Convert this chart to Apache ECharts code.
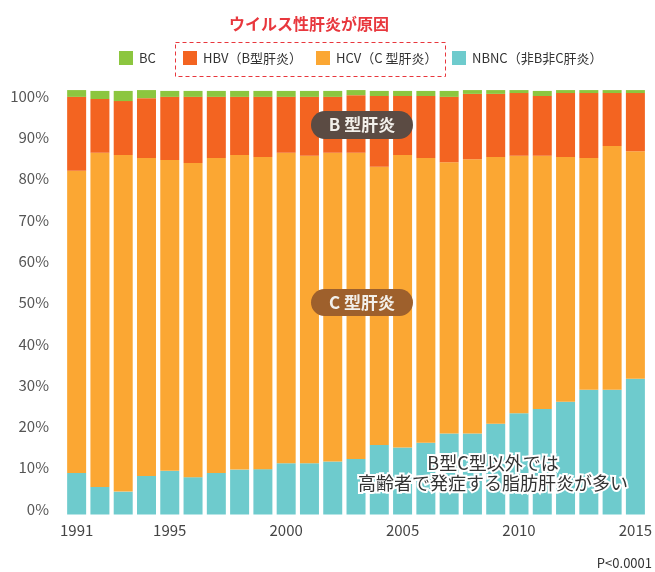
<!DOCTYPE html>
<html>
<head>
<meta charset="utf-8">
<script src="https://cdn.jsdelivr.net/npm/echarts@6/dist/echarts.min.js"></script>
<style>
html,body{margin:0;padding:0;background:#fff;}
#chart{width:655px;height:572px;}
</style>
</head>
<body>
<div id="chart"></div>
<script>
// ---- data (percent of cases per year) ----
const years = ['1991','1992','1993','1994','1995','1996','1997','1998','1999','2000','2001','2002','2003','2004','2005','2006','2007','2008','2009','2010','2011','2012','2013','2014','2015'];
const nbnc = [9.8,6.5,5.4,9.1,10.3,8.8,9.8,10.6,10.7,12.1,12.1,12.5,13.1,16.4,15.8,16.9,19.1,19.1,21.4,23.9,24.9,26.6,29.4,29.4,32.0];
const hcv  = [71.3,78.8,79.4,75.0,73.3,74.1,74.3,74.2,73.6,73.2,72.5,72.8,72.2,65.6,69.0,67.2,64.0,64.7,62.9,60.7,59.7,57.7,54.7,57.5,53.7];
const hbv  = [17.4,12.7,12.7,14.1,14.9,15.6,14.4,13.7,14.2,13.2,13.9,13.2,13.6,16.7,13.9,14.6,15.4,15.4,14.9,14.8,14.1,15.1,15.3,12.5,13.7];
const bc   = [1.6,1.9,2.4,1.9,1.4,1.4,1.4,1.4,1.4,1.4,1.4,1.4,1.2,1.2,1.2,1.2,1.4,0.9,0.9,0.7,1.2,0.7,0.7,0.7,0.7];
const shownYears = ['1991','1995','2000','2005','2010','2015'];
const seriesNames = ['NBNC（非B非C肝炎）','HCV（C 型肝炎）','HBV（B型肝炎）','BC'];
const colors = {bc:'#8cc63f', hbv:'#f36421', hcv:'#fba733', nbnc:'#6ecbcd'};
const title = 'ウイルス性肝炎が原因';
const noteB = 'B 型肝炎';
const noteC = 'C 型肝炎';
const noteOther = 'B型C型以外では\n高齢者で発症する脂肪肝炎が多い';
const pNote = 'P<0.0001';

const FONT = "'Noto Sans CJK JP', 'Noto Sans', sans-serif";
const chart = echarts.init(document.getElementById('chart'), null, {renderer:'canvas'});

function legendAt(name, left) {
  return {
    data:[name], left:left, top:51, padding:0, itemWidth:14, itemHeight:14, itemGap:0,
    icon:'rect', selectedMode:false,
    textStyle:{fontFamily:FONT, fontSize:13, color:'#333', padding:[0,0,0,1]}
  };
}

const option = {
  animation:false,
  textStyle:{fontFamily:FONT},
  title:{
    text:title, left:224, top:11,
    textStyle:{fontFamily:FONT, fontSize:16, fontWeight:'bold', color:'#e8373d'}
  },
  legend:[
    legendAt(seriesNames[3], 119),
    legendAt(seriesNames[2], 183),
    legendAt(seriesNames[1], 316),
    legendAt(seriesNames[0], 452)
  ],
  grid:[
    {left:65, width:584.4, top:90.5, height:424},
    {left:65, width:584.4, top:96, height:413}
  ],
  xAxis:[
    {
      type:'category', data:years, gridIndex:0,
      axisLine:{show:false}, axisTick:{show:false},
      axisLabel:{
        interval:0, margin:8, fontSize:15, color:'#444', fontFamily:FONT,
        formatter:function(v){ return shownYears.indexOf(v) >= 0 ? v : ''; }
      }
    },
    {type:'category', data:years, gridIndex:1, show:false}
  ],
  yAxis:[
    {type:'value', gridIndex:0, min:0, max:100, interval:10, show:false},
    {
      type:'value', gridIndex:1, min:0, max:100, interval:10,
      axisLine:{show:false}, axisTick:{show:false}, splitLine:{show:false},
      axisLabel:{margin:16, fontSize:15, color:'#555', fontFamily:FONT, formatter:'{value}%'}
    }
  ],
  series:[
    {name:seriesNames[0], type:'bar', stack:'all', data:nbnc, barWidth:19, itemStyle:{color:colors.nbnc}, xAxisIndex:0, yAxisIndex:0, clip:false},
    {name:seriesNames[1], type:'bar', stack:'all', data:hcv, barWidth:19, itemStyle:{color:colors.hcv}, xAxisIndex:0, yAxisIndex:0, clip:false},
    {name:seriesNames[2], type:'bar', stack:'all', data:hbv, barWidth:19, itemStyle:{color:colors.hbv}, xAxisIndex:0, yAxisIndex:0, clip:false},
    {name:seriesNames[3], type:'bar', stack:'all', data:bc, barWidth:19, itemStyle:{color:colors.bc}, xAxisIndex:0, yAxisIndex:0, clip:false}
  ],
  graphic:[
    {type:'rect', left:173, top:40, shape:{width:270, height:34},
     style:{fill:'none', stroke:'#e8373d', lineWidth:1, lineDash:[4,3]}, z:10},
    {type:'rect', shape:{x:311, y:111, width:102, height:28, r:14},
     style:{fill:'#5b4b43'}, z:20},
    {type:'text', x:362, y:125, z:21,
     style:{text:noteB, fill:'#f2efea', font:'bold 17px ' + FONT, align:'center', verticalAlign:'middle'}},
    {type:'rect', shape:{x:311, y:289, width:102, height:27, r:13.5},
     style:{fill:'#9e602c'}, z:20},
    {type:'text', x:362, y:302.5, z:21,
     style:{text:noteC, fill:'#f2efea', font:'bold 17px ' + FONT, align:'center', verticalAlign:'middle'}},
    {type:'text', x:493, y:473, z:21,
     style:{text:noteOther, fill:'#333', font:'18px ' + FONT, lineHeight:20,
            align:'center', verticalAlign:'middle', stroke:'#fff', lineWidth:4}},
    {type:'text', x:652, y:563, z:21,
     style:{text:pNote, fill:'#333', font:'13px ' + FONT, align:'right', verticalAlign:'middle'}}
  ]
};
chart.setOption(option);
</script>
</body>
</html>
